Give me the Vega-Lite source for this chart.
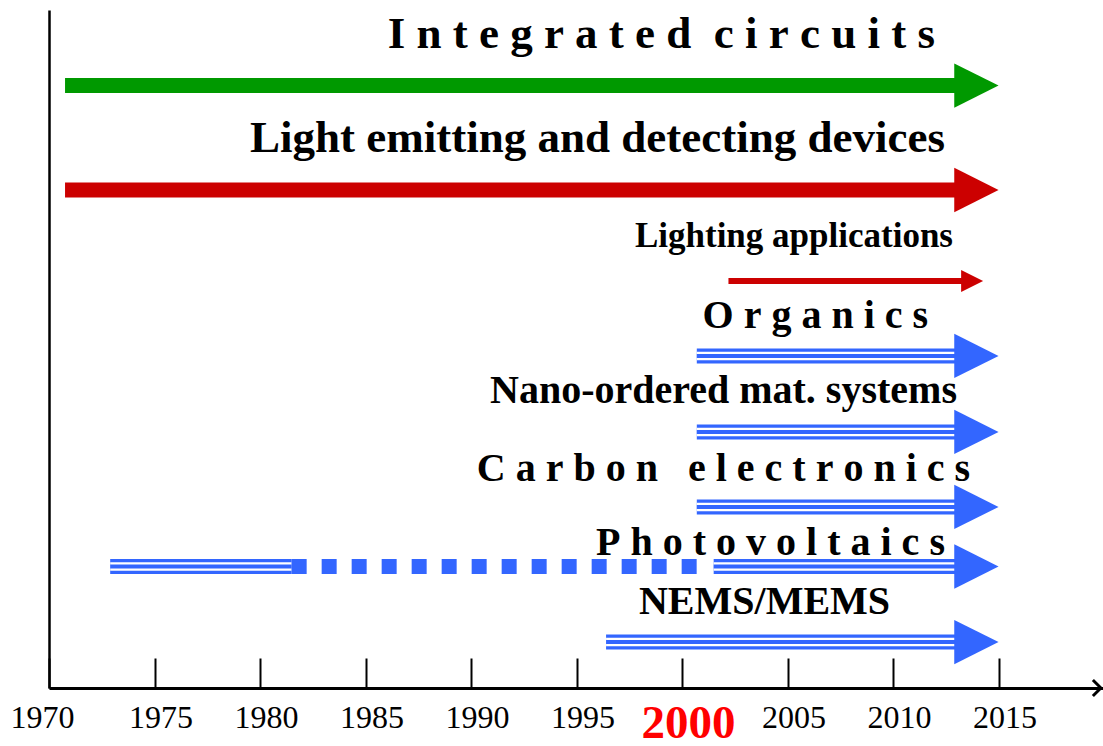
{
  "$schema": "https://vega.github.io/schema/vega-lite/v6.json",
  "width": 1054,
  "height": 678,
  "autosize": {"type": "none"},
  "padding": {"left": 49, "top": 10, "right": 0, "bottom": 58},
  "background": "white",
  "config": {"view": {"stroke": null}},
  "datasets": {
    "segments": [
      {"series": "Integrated circuits", "family": "ic", "kind": "solid", "start": 1970.76, "end": 2014, "level": 88.86},
      {"series": "Light emitting and detecting devices", "family": "led", "kind": "solid", "start": 1970.76, "end": 2014, "level": 73.45},
      {"series": "Lighting applications", "family": "led", "kind": "thin", "start": 2002.2, "end": 2013.6, "level": 60.03},
      {"series": "Organics", "family": "emerging", "kind": "triple", "start": 2000.7, "end": 2014, "level": 48.97},
      {"series": "Nano-ordered mat. systems", "family": "emerging", "kind": "triple", "start": 2000.7, "end": 2014, "level": 37.76},
      {"series": "Carbon electronics", "family": "emerging", "kind": "triple", "start": 2000.7, "end": 2014, "level": 26.7},
      {"series": "Photovoltaics", "family": "emerging", "kind": "triple", "start": 1972.9, "end": 1981.5, "level": 17.92},
      {"series": "Photovoltaics", "family": "emerging", "kind": "dotted", "start": 1981.5, "end": 2000.71, "level": 17.92},
      {"series": "Photovoltaics", "family": "emerging", "kind": "triple", "start": 2001.5, "end": 2014, "level": 17.92},
      {"series": "NEMS/MEMS", "family": "emerging", "kind": "triple", "start": 1996.4, "end": 2014, "level": 6.78}
    ],
    "heads": [
      {"series": "Integrated circuits", "family": "ic", "tip": 2015.0, "level": 88.86},
      {"series": "Light emitting and detecting devices", "family": "led", "tip": 2015.0, "level": 73.45},
      {"series": "Lighting applications", "family": "led", "tip": 2014.27, "level": 60.03},
      {"series": "Organics", "family": "emerging", "tip": 2015.0, "level": 48.97},
      {"series": "Nano-ordered mat. systems", "family": "emerging", "tip": 2015.0, "level": 37.76},
      {"series": "Carbon electronics", "family": "emerging", "tip": 2015.0, "level": 26.7},
      {"series": "Photovoltaics", "family": "emerging", "tip": 2015.0, "level": 17.92},
      {"series": "NEMS/MEMS", "family": "emerging", "tip": 2015.0, "level": 6.78}
    ],
    "labels": [
      {"series": "Integrated circuits", "text": "I\u2005n\u2005t\u2005e\u2005g\u2005r\u2005a\u2005t\u2005e\u2005d\u2005\u2005c\u2005i\u2005r\u2005c\u2005u\u2005i\u2005t\u2005s", "right": 2011.99, "base": 94.4},
      {"series": "Light emitting and detecting devices", "text": "Light emitting and detecting devices", "right": 2012.46, "base": 79.06},
      {"series": "Lighting applications", "text": "Lighting applications", "right": 2012.84, "base": 65.0},
      {"series": "Organics", "text": "O\u2005r\u2005g\u2005a\u2005n\u2005i\u2005c\u2005s", "right": 2011.66, "base": 53.1},
      {"series": "Nano-ordered mat. systems", "text": "Nano-ordered mat. systems", "right": 2013.03, "base": 42.0},
      {"series": "Carbon electronics", "text": "C\u2005a\u2005r\u2005b\u2005o\u2005n\u2005\u2005\u2005e\u2005l\u2005e\u2005c\u2005t\u2005r\u2005o\u2005n\u2005i\u2005c\u2005s", "right": 2013.65, "base": 30.5},
      {"series": "Photovoltaics", "text": "P\u2005h\u2005o\u2005t\u2005o\u2005v\u2005o\u2005l\u2005t\u2005a\u2005i\u2005c\u2005s", "right": 2012.46, "base": 19.6},
      {"series": "NEMS/MEMS", "text": "NEMS/MEMS", "right": 2009.86, "base": 10.9}
    ],
    "axisEnd": [
      {"year": 2019.85, "level": 0}
    ]
  },
  "layer": [
    {
      "data": {"name": "segments"},
      "transform": [{"filter": "datum.kind == 'solid'"}],
      "mark": {"type": "rule", "strokeWidth": 15, "strokeCap": "butt"},
      "encoding": {
        "x": {"field": "start", "type": "quantitative",
          "scale": {"domain": [1970, 2019.95], "nice": false, "zero": false},
          "axis": {
            "values": [1970, 1975, 1980, 1985, 1990, 1995, 2000, 2005, 2010, 2015],
            "format": "d", "grid": false, "title": null,
            "domainColor": "black", "domainWidth": 3,
            "tickColor": "black", "tickWidth": 2, "tickSize": -30,
            "labelFont": "Liberation Serif",
            "labelPadding": {"condition": {"test": "datum.value == 2000", "value": 42}, "value": 44},
            "labelFontSize": {"condition": {"test": "datum.value == 2000", "value": 47}, "value": 32},
            "labelFontWeight": {"condition": {"test": "datum.value == 2000", "value": "bold"}, "value": "normal"},
            "labelColor": {"condition": {"test": "datum.value == 2000", "value": "#FF0000"}, "value": "black"},
            "labelOffset": {"condition": {"test": "datum.value == 1970", "value": -7}, "value": 6},
            "labelFlush": false, "labelOverlap": false
          }},
        "x2": {"field": "end"},
        "y": {"field": "level", "type": "quantitative",
          "scale": {"domain": [0, 100], "nice": false, "zero": false},
          "axis": {"ticks": false, "labels": false, "grid": false, "title": null, "domainColor": "black", "domainWidth": 2.5}},
        "color": {"field": "family", "type": "nominal",
          "scale": {"domain": ["ic", "led", "emerging"], "range": ["#009900", "#CC0000", "#3366FF"]}, "legend": null}
      }
    },
    {
      "data": {"name": "segments"},
      "transform": [{"filter": "datum.kind == 'thin'"}],
      "mark": {"type": "rule", "strokeWidth": 6, "strokeCap": "butt"},
      "encoding": {
        "x": {"field": "start", "type": "quantitative", "title": null},
        "x2": {"field": "end"},
        "y": {"field": "level", "type": "quantitative", "title": null},
        "color": {"field": "family", "type": "nominal", "legend": null}
      }
    },
    {
      "data": {"name": "segments"},
      "transform": [{"filter": "datum.kind == 'triple'"}],
      "mark": {"type": "rule", "strokeWidth": 15, "strokeCap": "butt"},
      "encoding": {
        "x": {"field": "start", "type": "quantitative", "title": null},
        "x2": {"field": "end"},
        "y": {"field": "level", "type": "quantitative", "title": null},
        "color": {"field": "family", "type": "nominal", "legend": null}
      }
    },
    {
      "data": {"name": "segments"},
      "transform": [{"filter": "datum.kind == 'triple'"}],
      "mark": {"type": "rule", "strokeWidth": 8.5, "strokeCap": "butt", "color": "white"},
      "encoding": {
        "x": {"field": "start", "type": "quantitative", "title": null},
        "x2": {"field": "end"},
        "y": {"field": "level", "type": "quantitative", "title": null}
      }
    },
    {
      "data": {"name": "segments"},
      "transform": [{"filter": "datum.kind == 'triple'"}],
      "mark": {"type": "rule", "strokeWidth": 4, "strokeCap": "butt"},
      "encoding": {
        "x": {"field": "start", "type": "quantitative", "title": null},
        "x2": {"field": "end"},
        "y": {"field": "level", "type": "quantitative", "title": null},
        "color": {"field": "family", "type": "nominal", "legend": null}
      }
    },
    {
      "data": {"name": "segments"},
      "transform": [{"filter": "datum.kind == 'dotted'"}],
      "mark": {"type": "rule", "strokeWidth": 15, "strokeCap": "butt", "strokeDash": [15, 15]},
      "encoding": {
        "x": {"field": "start", "type": "quantitative", "title": null},
        "x2": {"field": "end"},
        "y": {"field": "level", "type": "quantitative", "title": null},
        "color": {"field": "family", "type": "nominal", "legend": null}
      }
    },
    {
      "data": {"name": "heads"},
      "transform": [{"filter": "datum.series != 'Lighting applications'"}],
      "mark": {"type": "point", "shape": "M-2,-1L0,0L-2,1Z", "filled": true, "opacity": 1, "size": 1960},
      "encoding": {
        "x": {"field": "tip", "type": "quantitative", "title": null},
        "y": {"field": "level", "type": "quantitative", "title": null},
        "color": {"field": "family", "type": "nominal", "legend": null}
      }
    },
    {
      "data": {"name": "heads"},
      "transform": [{"filter": "datum.series == 'Lighting applications'"}],
      "mark": {"type": "point", "shape": "M-2,-1L0,0L-2,1Z", "filled": true, "opacity": 1, "size": 484},
      "encoding": {
        "x": {"field": "tip", "type": "quantitative", "title": null},
        "y": {"field": "level", "type": "quantitative", "title": null},
        "color": {"field": "family", "type": "nominal", "legend": null}
      }
    },
    {
      "data": {"name": "axisEnd"},
      "mark": {"type": "point", "shape": "M-1,-1L0,0L-1,1", "filled": false, "opacity": 1, "size": 256, "stroke": "black", "strokeWidth": 3},
      "encoding": {
        "x": {"field": "year", "type": "quantitative", "title": null},
        "y": {"field": "level", "type": "quantitative", "title": null}
      }
    },
    {
      "data": {"name": "labels"},
      "transform": [{"filter": "datum.series == 'Integrated circuits'"}],
      "mark": {"type": "text", "align": "right", "baseline": "alphabetic", "font": "Liberation Serif", "fontWeight": "bold", "fontSize": 45, "color": "black"},
      "encoding": {
        "x": {"field": "right", "type": "quantitative", "title": null},
        "y": {"field": "base", "type": "quantitative", "title": null},
        "text": {"field": "text"}
      }
    },
    {
      "data": {"name": "labels"},
      "transform": [{"filter": "datum.series == 'Light emitting and detecting devices'"}],
      "mark": {"type": "text", "align": "right", "baseline": "alphabetic", "font": "Liberation Serif", "fontWeight": "bold", "fontSize": 45, "color": "black"},
      "encoding": {
        "x": {"field": "right", "type": "quantitative", "title": null},
        "y": {"field": "base", "type": "quantitative", "title": null},
        "text": {"field": "text"}
      }
    },
    {
      "data": {"name": "labels"},
      "transform": [{"filter": "datum.series == 'Lighting applications'"}],
      "mark": {"type": "text", "align": "right", "baseline": "alphabetic", "font": "Liberation Serif", "fontWeight": "bold", "fontSize": 35, "color": "black"},
      "encoding": {
        "x": {"field": "right", "type": "quantitative", "title": null},
        "y": {"field": "base", "type": "quantitative", "title": null},
        "text": {"field": "text"}
      }
    },
    {
      "data": {"name": "labels"},
      "transform": [{"filter": "datum.series == 'Nano-ordered mat. systems' || datum.series == 'NEMS/MEMS'"}],
      "mark": {"type": "text", "align": "right", "baseline": "alphabetic", "font": "Liberation Serif", "fontWeight": "bold", "fontSize": 40, "color": "black"},
      "encoding": {
        "x": {"field": "right", "type": "quantitative", "title": null},
        "y": {"field": "base", "type": "quantitative", "title": null},
        "text": {"field": "text"}
      }
    },
    {
      "data": {"name": "labels"},
      "transform": [{"filter": "datum.series == 'Organics' || datum.series == 'Carbon electronics' || datum.series == 'Photovoltaics'"}],
      "mark": {"type": "text", "align": "right", "baseline": "alphabetic", "font": "Liberation Serif", "fontWeight": "bold", "fontSize": 40, "color": "black"},
      "encoding": {
        "x": {"field": "right", "type": "quantitative", "title": null},
        "y": {"field": "base", "type": "quantitative", "title": null},
        "text": {"field": "text"}
      }
    }
  ]
}
